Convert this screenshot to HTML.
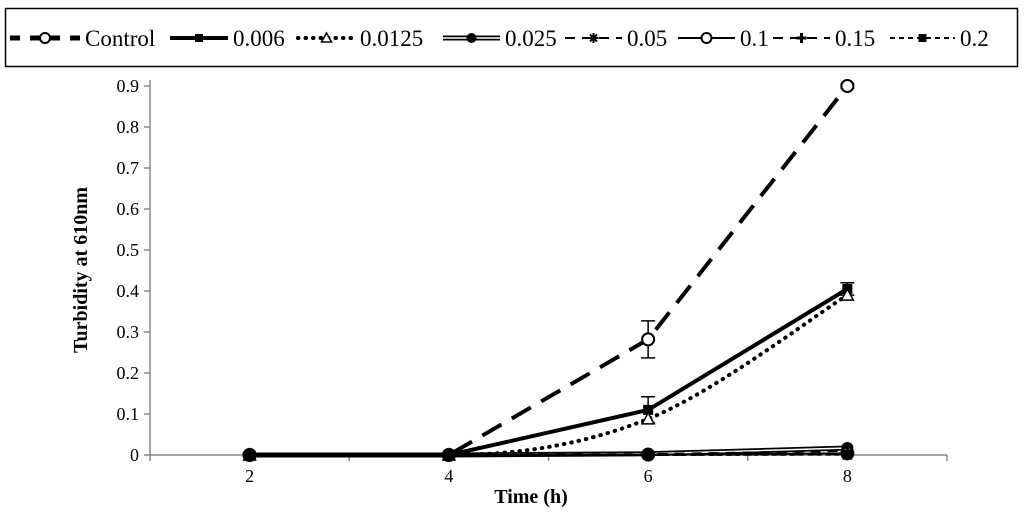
<!DOCTYPE html>
<html><head><meta charset="utf-8"><style>
body{margin:0;background:#fff}
svg{display:block}
text{font-family:"Liberation Serif",serif}
</style></head><body>
<svg width="1024" height="516" viewBox="0 0 1024 516">
<g id="legend"></g>
<g id="axes"></g>
<g id="series"></g>
<text x="87" y="270" transform="rotate(-90 87 270)" text-anchor="middle" font-size="20" font-weight="bold">Turbidity at 610nm</text>
<text x="531" y="503" text-anchor="middle" font-size="20" font-weight="bold">Time (h)</text>
</svg>
<script>
const categories=[2,4,6,8];
const yTicks=[0,0.1,0.2,0.3,0.4,0.5,0.6,0.7,0.8,0.9];
const seriesNames=["Control","0.006","0.0125","0.025","0.05","0.1","0.15","0.2"];
const control=[0,0,0.282,0.9];
const s006=[0,0,0.11,0.405];
const s0125=[0,0,0.088,0.39];
const s025=[0,0,0.003,0.017];
const s05=[0,0,0.002,0.01];
const s1=[0,0,0.001,0.004];
const s15=[0,0,0,0.002];
const s2=[0,0,0,0.001];
const errControl=[0.003,0.002,0.045,0.005];
const err006=[0.003,0.002,0.032,0.015];
const NS="http://www.w3.org/2000/svg";
const L=150,R=947,T=86,B=455;
function x(i){return L+(R-L)*(i+0.5)/categories.length;}
function y(v){return B-(B-T)*v/0.9;}
function mk(tag,attrs,parent){const e=document.createElementNS(NS,tag);for(const k in attrs)e.setAttribute(k,attrs[k]);parent.appendChild(e);return e;}
const ax=document.getElementById('axes');
let a=mk('line',{x1:L,y1:T-6,x2:L,y2:B,stroke:'#888','stroke-width':1.5},ax);

a=mk('line',{x1:L,y1:B,x2:R,y2:B,stroke:'#888','stroke-width':1.5},ax);

yTicks.forEach(v=>{
 const t=mk('line',{x1:L-6,y1:y(v),x2:L,y2:y(v),stroke:'#888','stroke-width':1.5},ax);
 
 const tx=mk('text',{x:L-11,y:y(v)+6,'text-anchor':'end','font-size':18},ax);tx.textContent=String(v);
 
});
for(let i=0;i<=categories.length;i++){
 const xx=L+(R-L)*i/categories.length;
 const t=mk('line',{x1:xx,y1:B,x2:xx,y2:B+6,stroke:'#888','stroke-width':1.5},ax);
 
}
categories.forEach((c,i)=>{
 const tx=mk('text',{x:x(i),y:B+27,'text-anchor':'middle','font-size':18},ax);tx.textContent=String(c);
 
});
const sg=document.getElementById('series');
const styles=[
 {d:control,dash:'22,12',w:4,m:'openCircle',err:errControl},
 {d:s006,dash:'',w:4,m:'square',err:err006},
 {d:s0125,dash:'0.5,7',w:4,m:'triangle',cap:'round',smooth:true},
 {d:s025,dash:'',w:5,m:'dot',double:true},
 {d:s05,dash:'10,7',w:2,m:'star'},
 {d:s1,dash:'',w:2,m:'openCircle'},
 {d:s15,dash:'10,7',w:2,m:'plus'},
 {d:s2,dash:'5,4',w:2,m:'square'}
];
function marker(type,cx,cy,g,sz){
 sz=sz||6;let e;
 if(type==='openCircle')e=mk('circle',{cx,cy,r:sz,fill:'#fff',stroke:'#000','stroke-width':2},g);
 else if(type==='dot')e=mk('circle',{cx,cy,r:sz,fill:'#000'},g);
 else if(type==='square')e=mk('rect',{x:cx-sz+1,y:cy-sz+1,width:2*sz-2,height:2*sz-2,fill:'#000'},g);
 else if(type==='triangle')e=mk('path',{d:`M${cx},${cy-sz}L${cx+sz},${cy+sz-1}L${cx-sz},${cy+sz-1}Z`,fill:'#fff',stroke:'#000','stroke-width':1.5},g);
 else if(type==='star')e=mk('path',{d:`M${cx-sz},${cy}H${cx+sz}M${cx-sz*0.7},${cy-sz*0.7}L${cx+sz*0.7},${cy+sz*0.7}M${cx+sz*0.7},${cy-sz*0.7}L${cx-sz*0.7},${cy+sz*0.7}M${cx},${cy-sz}V${cy+sz}`,stroke:'#000','stroke-width':2,fill:'none'},g);
 else e=mk('path',{d:`M${cx-sz},${cy}H${cx+sz}M${cx},${cy-sz}V${cy+sz}`,stroke:'#000','stroke-width':3},g);
 return e;
}
function pathD(d,smooth){
 const p=d.map((v,i)=>[x(i),y(v)]);
 if(!smooth)return 'M'+p.map(q=>q.join(',')).join('L');
 let s='M'+p[0].join(',');
 for(let i=0;i<p.length-1;i++){
  const p0=p[Math.max(0,i-1)],p1=p[i],p2=p[i+1],p3=p[Math.min(p.length-1,i+2)];
  if(p1[1]===p2[1]){s+='L'+p2.join(',');continue;}
  let c1=[p1[0]+(p2[0]-p0[0])/6,p1[1]+(p2[1]-p0[1])/6],c2=[p2[0]-(p3[0]-p1[0])/6,p2[1]-(p3[1]-p1[1])/6];
  if(p0[1]===p1[1])c1=[p1[0]+(p2[0]-p1[0])/3,p1[1]];
  s+=`C${c1.join(',')} ${c2.join(',')} ${p2.join(',')}`;
 }
 return s;
}
for(let k=0;k<styles.length;k++){
 const st=styles[k];
 const g=mk('g',{},sg);
 
 
 const d=pathD(st.d,st.smooth);
 const ln=mk('path',{d,fill:'none',stroke:'#000','stroke-width':st.w,'stroke-dasharray':st.dash,'stroke-linecap':st.cap||'butt'},g);
 
 if(st.double){const inner=mk('path',{d,fill:'none',stroke:'#fff','stroke-width':1.5},g);}
 st.d.forEach((v,i)=>{
  if(st.err){
   const e=st.err[i],cx=x(i);
   const eb=mk('path',{d:`M${cx},${y(v+e)}V${y(v-e)}M${cx-7},${y(v+e)}H${cx+7}M${cx-7},${y(v-e)}H${cx+7}`,stroke:'#000','stroke-width':1.5,fill:'none'},g);
   
  }
  const m=marker(st.m,x(i),y(v),g);
  
 });
}
// legend
const lg=document.getElementById('legend');
const box=mk('rect',{x:5.5,y:8.5,width:1012,height:58,fill:'#fff',stroke:'#000','stroke-width':1.5},lg);

const lx=[10,170,298,443,565,678,773,890];
const lw=[70,58,57,57,57,57,57,65];
styles.forEach((st,k)=>{
 const g=mk('g',{},lg);
 
 const x0=lx[k],x1=lx[k]+lw[k],cy=38;
 mk('line',{x1:x0,y1:cy,x2:x1,y2:cy,stroke:'#000','stroke-width':k===0?5:st.w,'stroke-dasharray':k===0?'10,10':st.dash,'stroke-linecap':st.cap||'butt'},g);
 if(st.double)mk('line',{x1:x0,y1:cy,x2:x1,y2:cy,stroke:'#fff','stroke-width':1.5},g);
 marker(st.m,(x0+x1)/2,cy,g,5);
 const t=mk('text',{x:x1+5,y:cy+8,'font-size':23},g);t.textContent=seriesNames[k];
 
});
</script>
</body></html>
